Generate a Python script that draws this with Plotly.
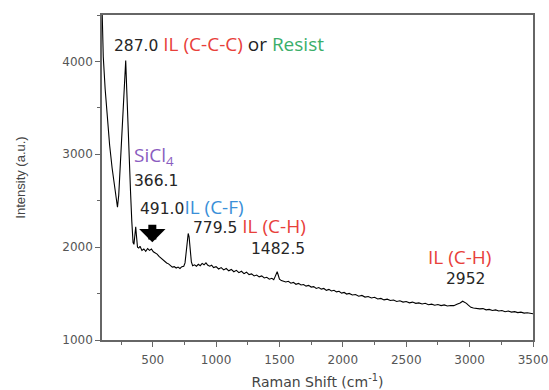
import plotly.graph_objects as go

# Raman spectrum
raman_shift = [100, 110, 125, 140, 160, 180, 200, 215, 222, 232, 245, 258, 270, 280, 287,
               295, 305, 315, 325, 335, 345, 352, 360, 366, 372, 380, 390,
               400, 415, 430, 445, 460, 475, 490, 505, 520, 535, 550, 565, 580, 595, 610,
               625, 640, 655, 670, 685, 700, 715, 730, 745, 755, 765, 772, 780, 787, 795,
               805, 815, 830, 845, 860, 875, 890, 905, 920, 935, 950, 965, 980, 1000, 1020,
               1040, 1060, 1080, 1100, 1120, 1140, 1160, 1180, 1200, 1220, 1240, 1260,
               1280, 1300, 1320, 1340, 1360, 1380, 1400, 1420, 1440, 1455, 1465, 1475,
               1482, 1490, 1500, 1515, 1530, 1550, 1570, 1590, 1610, 1630, 1650, 1670,
               1690, 1710, 1730, 1750, 1770, 1790, 1810, 1830, 1850, 1870, 1890, 1910,
               1930, 1950, 1970, 1990, 2010, 2030, 2050, 2075, 2100, 2125, 2150, 2175,
               2200, 2225, 2250, 2275, 2300, 2325, 2350, 2375, 2400, 2425, 2450, 2475,
               2500, 2525, 2550, 2575, 2600, 2625, 2650, 2675, 2700, 2725, 2750, 2775,
               2800, 2825, 2850, 2875, 2900, 2925, 2945, 2960, 2975, 2990, 3010, 3030,
               3055, 3080, 3105, 3130, 3155, 3180, 3205, 3230, 3255, 3280, 3305, 3330,
               3355, 3380, 3405, 3430, 3455, 3480, 3500]
intensity = [4600, 4050, 3700, 3400, 3100, 2850, 2620, 2480, 2430, 2560, 2900, 3230, 3600,
             3900, 4010, 3700, 3250, 2950, 2600, 2280, 2050, 2030, 2160, 2220, 2120, 2000,
             1990,
             2010, 1965, 1980, 1955, 1985, 1965, 1980, 1950, 1940, 1925, 1900, 1880, 1870,
             1845, 1830, 1820, 1800, 1785, 1790, 1775, 1785, 1770, 1790, 1795, 1830, 1950,
             2080, 2147, 2110, 1960, 1840, 1800, 1810, 1795, 1815, 1800, 1825, 1810, 1830,
             1805, 1795, 1805, 1780, 1790, 1765, 1780, 1755, 1770, 1745, 1760, 1735, 1750,
             1725, 1740, 1715, 1730, 1705, 1712, 1690, 1700, 1680, 1690, 1668, 1675, 1655,
             1665, 1650, 1680, 1715, 1735, 1700, 1655, 1640, 1630, 1625, 1632, 1612, 1620,
             1600, 1610, 1592, 1598, 1580, 1588, 1570, 1575, 1555, 1565, 1548, 1555, 1535,
             1545, 1528, 1535, 1518, 1525, 1505, 1512, 1495, 1502, 1485, 1490, 1472, 1480,
             1462, 1468, 1452, 1460, 1442, 1448, 1432, 1440, 1425, 1430, 1415, 1422, 1408,
             1414, 1400, 1408, 1395, 1400, 1388, 1395, 1380, 1386, 1374, 1382, 1370, 1378,
             1366, 1372, 1370, 1385, 1398, 1418, 1410, 1395, 1375, 1352, 1345, 1340, 1335,
             1338, 1325, 1330, 1318, 1324, 1312, 1318, 1305, 1312, 1300, 1305, 1295, 1300,
             1290, 1294, 1284, 1282]

x_ticks = [500, 1000, 1500, 2000, 2500, 3000, 3500]
y_ticks = [1000, 2000, 3000, 4000]

fig = go.Figure()
fig.add_trace(go.Scatter(x=raman_shift, y=intensity, mode="lines",
                         line=dict(color="black", width=1.1), showlegend=False))

num_font = dict(family="DejaVu Sans", size=15.5, color="#262626")
LAB = "font-family:Open Sans;font-size:19px;"
RED = "#e8403a"
GREEN = "#3aae6a"
BLUE = "#3a8fd8"
PURPLE = "#8a5cc0"

def ann(x, y, text, font):
    fig.add_annotation(x=x, y=y, xref="x", yref="y", text=text, showarrow=False,
                       xanchor="left", yanchor="middle", font=font, borderpad=0)

ann(190, 4183,
    "287.0 <span style='%scolor:%s'>IL (C-C-C)</span>"
    "<span style='%scolor:#222'> or </span>"
    "<span style='%scolor:%s'>Resist</span>" % (LAB, RED, LAB, LAB, GREEN),
    num_font)
ann(345, 2985, "SiCl<sub>4</sub>", dict(family="Open Sans", size=19, color=PURPLE))
ann(345, 2715, "366.1", num_font)
ann(390, 2430, "491.0<span style='%scolor:%s'>IL (C-F)</span>" % (LAB, BLUE), num_font)
ann(808, 2225, "779.5 <span style='%scolor:%s'>IL (C-H)</span>" % (LAB, RED), num_font)
ann(1268, 1985, "1482.5", num_font)
ann(2660, 1890, "IL (C-H)", dict(family="Open Sans", size=19, color=RED))
ann(2805, 1660, "2952", num_font)

# down arrow at 491
fig.add_annotation(x=497, y=2054, xref="x", yref="y", ax=0, ay=-19, text="",
                   showarrow=True, arrowhead=1, arrowsize=0.55, arrowwidth=8,
                   arrowcolor="black")

axis_common = dict(showline=True, linecolor="#666", linewidth=1.5, mirror=True,
                   ticks="outside", ticklen=5, tickcolor="#666", tickwidth=1.2,
                   showgrid=False, zeroline=False, automargin=False,
                   tickfont=dict(family="DejaVu Sans", size=12, color="#555"))

fig.update_xaxes(range=[100, 3500], tickvals=x_ticks, **axis_common,
                 ticklabelstandoff=3,
                 minor=dict(ticks="outside", ticklen=3, tickcolor="#666", dtick=250, tick0=0),
                 title=dict(text="Raman Shift (cm<sup>-1</sup>)", standoff=14,
                            font=dict(family="DejaVu Sans", size=14, color="#444")))
fig.update_yaxes(range=[1000, 4500], tickvals=y_ticks, **axis_common,
                 minor=dict(ticks="outside", ticklen=3, tickcolor="#666", dtick=500, tick0=0),
                 title=dict(text="Intensity (a.u.)", standoff=34,
                            font=dict(family="Liberation Sans", size=13, color="#444")))

fig.update_layout(width=549, height=390, margin=dict(l=102, r=16, t=15, b=50),
                  paper_bgcolor="white", plot_bgcolor="white")

fig.write_html("out.html")
